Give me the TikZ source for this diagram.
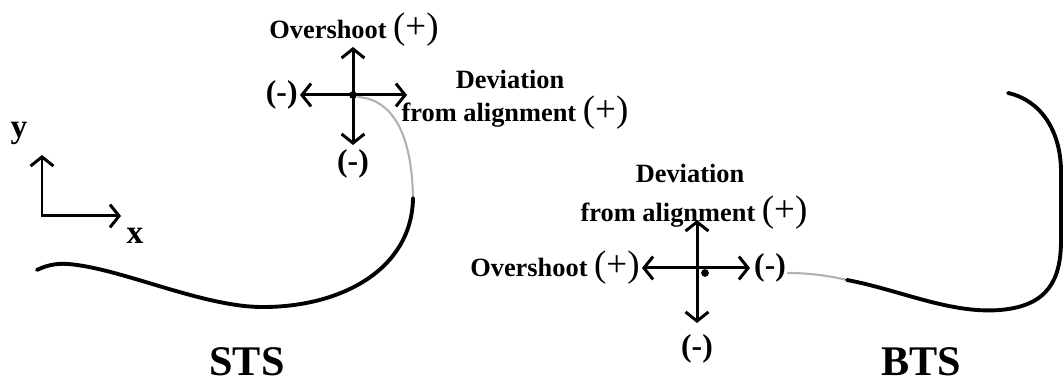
\documentclass[tikz,border=0pt]{standalone}
\usepackage{fontspec}
\setmainfont{Liberation Serif}
\usetikzlibrary{arrows.meta,positioning}

\newcommand{\sgnsize}{\fontsize{10.5}{11}\selectfont\mdseries}

\tikzset{
  lbl/.style={font=\fontsize{7.5}{9}\selectfont\bfseries, inner sep=0pt},
  sgn/.style={font=\fontsize{9}{10}\selectfont\bfseries, inner sep=0pt},
  axlbl/.style={font=\fontsize{9.5}{10}\selectfont\bfseries, inner sep=0pt},
  title/.style={font=\fontsize{12}{14}\selectfont\bfseries, inner sep=0pt},
  barb/.tip={Straight Barb[length=2.6pt,width=6.5pt,line width=0.85pt]},
  dirarrow/.style={line width=0.85pt, barb-barb},
  trace/.style={line width=1.1pt, line cap=round},
  tracelight/.style={line width=0.6pt, black!30, line cap=round},
}

\begin{document}
\begin{tikzpicture}[x=0.01cm, y=-0.01cm]
  \useasboundingbox (0,0) rectangle (1064,383);

  % Axis triad
  \coordinate (axY) at (42,155);
  \coordinate (axX) at (121,216);
  \draw[dirarrow] (axY) |- (axX);
  \node[axlbl] (yLbl) at (19,133) {y};
  \node[axlbl] (xLbl) at (135,236) {x};

  % STS cross
  \coordinate (stsC) at (353,95);
  \coordinate (stsN) at (353,47);
  \coordinate (stsS) at (353,145);
  \coordinate (stsW) at (300,95);
  \coordinate (stsE) at (407,95);
  \draw[dirarrow] (stsW) -- (stsE);
  \draw[dirarrow] (stsN) -- (stsS);
  \fill (stsC) circle (1.1pt);

  \node[sgn, left=0.5pt of stsW] (stsWLbl) {(-)};
  \node[sgn, below=1pt of stsS] (stsSLbl) {(-)};
  \node[lbl] (stsNLbl) at (354,30) {Overshoot {\sgnsize(+)}};
  \node[lbl] (stsDevA) at (510,79) {Deviation};
  \node[lbl] (stsDevB) at (515,113) {from alignment {\sgnsize(+)}};

  % STS trace
  \coordinate (stsT1) at (413,198);
  \draw[tracelight] (stsC) ++(5,2) .. controls (396,100) and (412,140) .. (stsT1);
  \draw[trace] (stsT1) .. controls (412,270) and (340,308) .. (260,307)
    .. controls (200,306) and (120,268) .. (68,264)
    .. controls (55,263) and (45,266) .. (37,270);

  \node[title] (stsTitle) at (247,362) {STS};

  % BTS cross
  \coordinate (btsC) at (697,268);
  \coordinate (btsN) at (697,220);
  \coordinate (btsS) at (697,323);
  \coordinate (btsW) at (642,268);
  \coordinate (btsE) at (750,268);
  \draw[dirarrow] (btsW) -- (btsE);
  \draw[dirarrow] (btsN) -- (btsS);
  \fill (705,273) circle (1.1pt);

  \node[lbl, left=0.5pt of btsW] (btsWLbl) {Overshoot {\sgnsize(+)}};
  \node[sgn, right=1pt of btsE] (btsELbl) {(-)};
  \node[sgn, below=3pt of btsS] (btsSLbl) {(-)};
  \node[lbl] (btsDevA) at (690,173) {Deviation};
  \node[lbl] (btsDevB) at (694,213) {from alignment {\sgnsize(+)}};

  % BTS trace
  \coordinate (btsT0) at (788,273);
  \coordinate (btsT1) at (847,280);
  \draw[tracelight] (btsT0) .. controls (810,273) and (830,276) .. (btsT1);
  \draw[trace] (btsT1) .. controls (900,290) and (950,314) .. (1000,310)
    .. controls (1048,306) and (1061,280) .. (1061,240)
    -- (1061,172)
    .. controls (1061,130) and (1040,100) .. (1008,93);

  \node[title] (btsTitle) at (921,362) {BTS};
\end{tikzpicture}
\end{document}
